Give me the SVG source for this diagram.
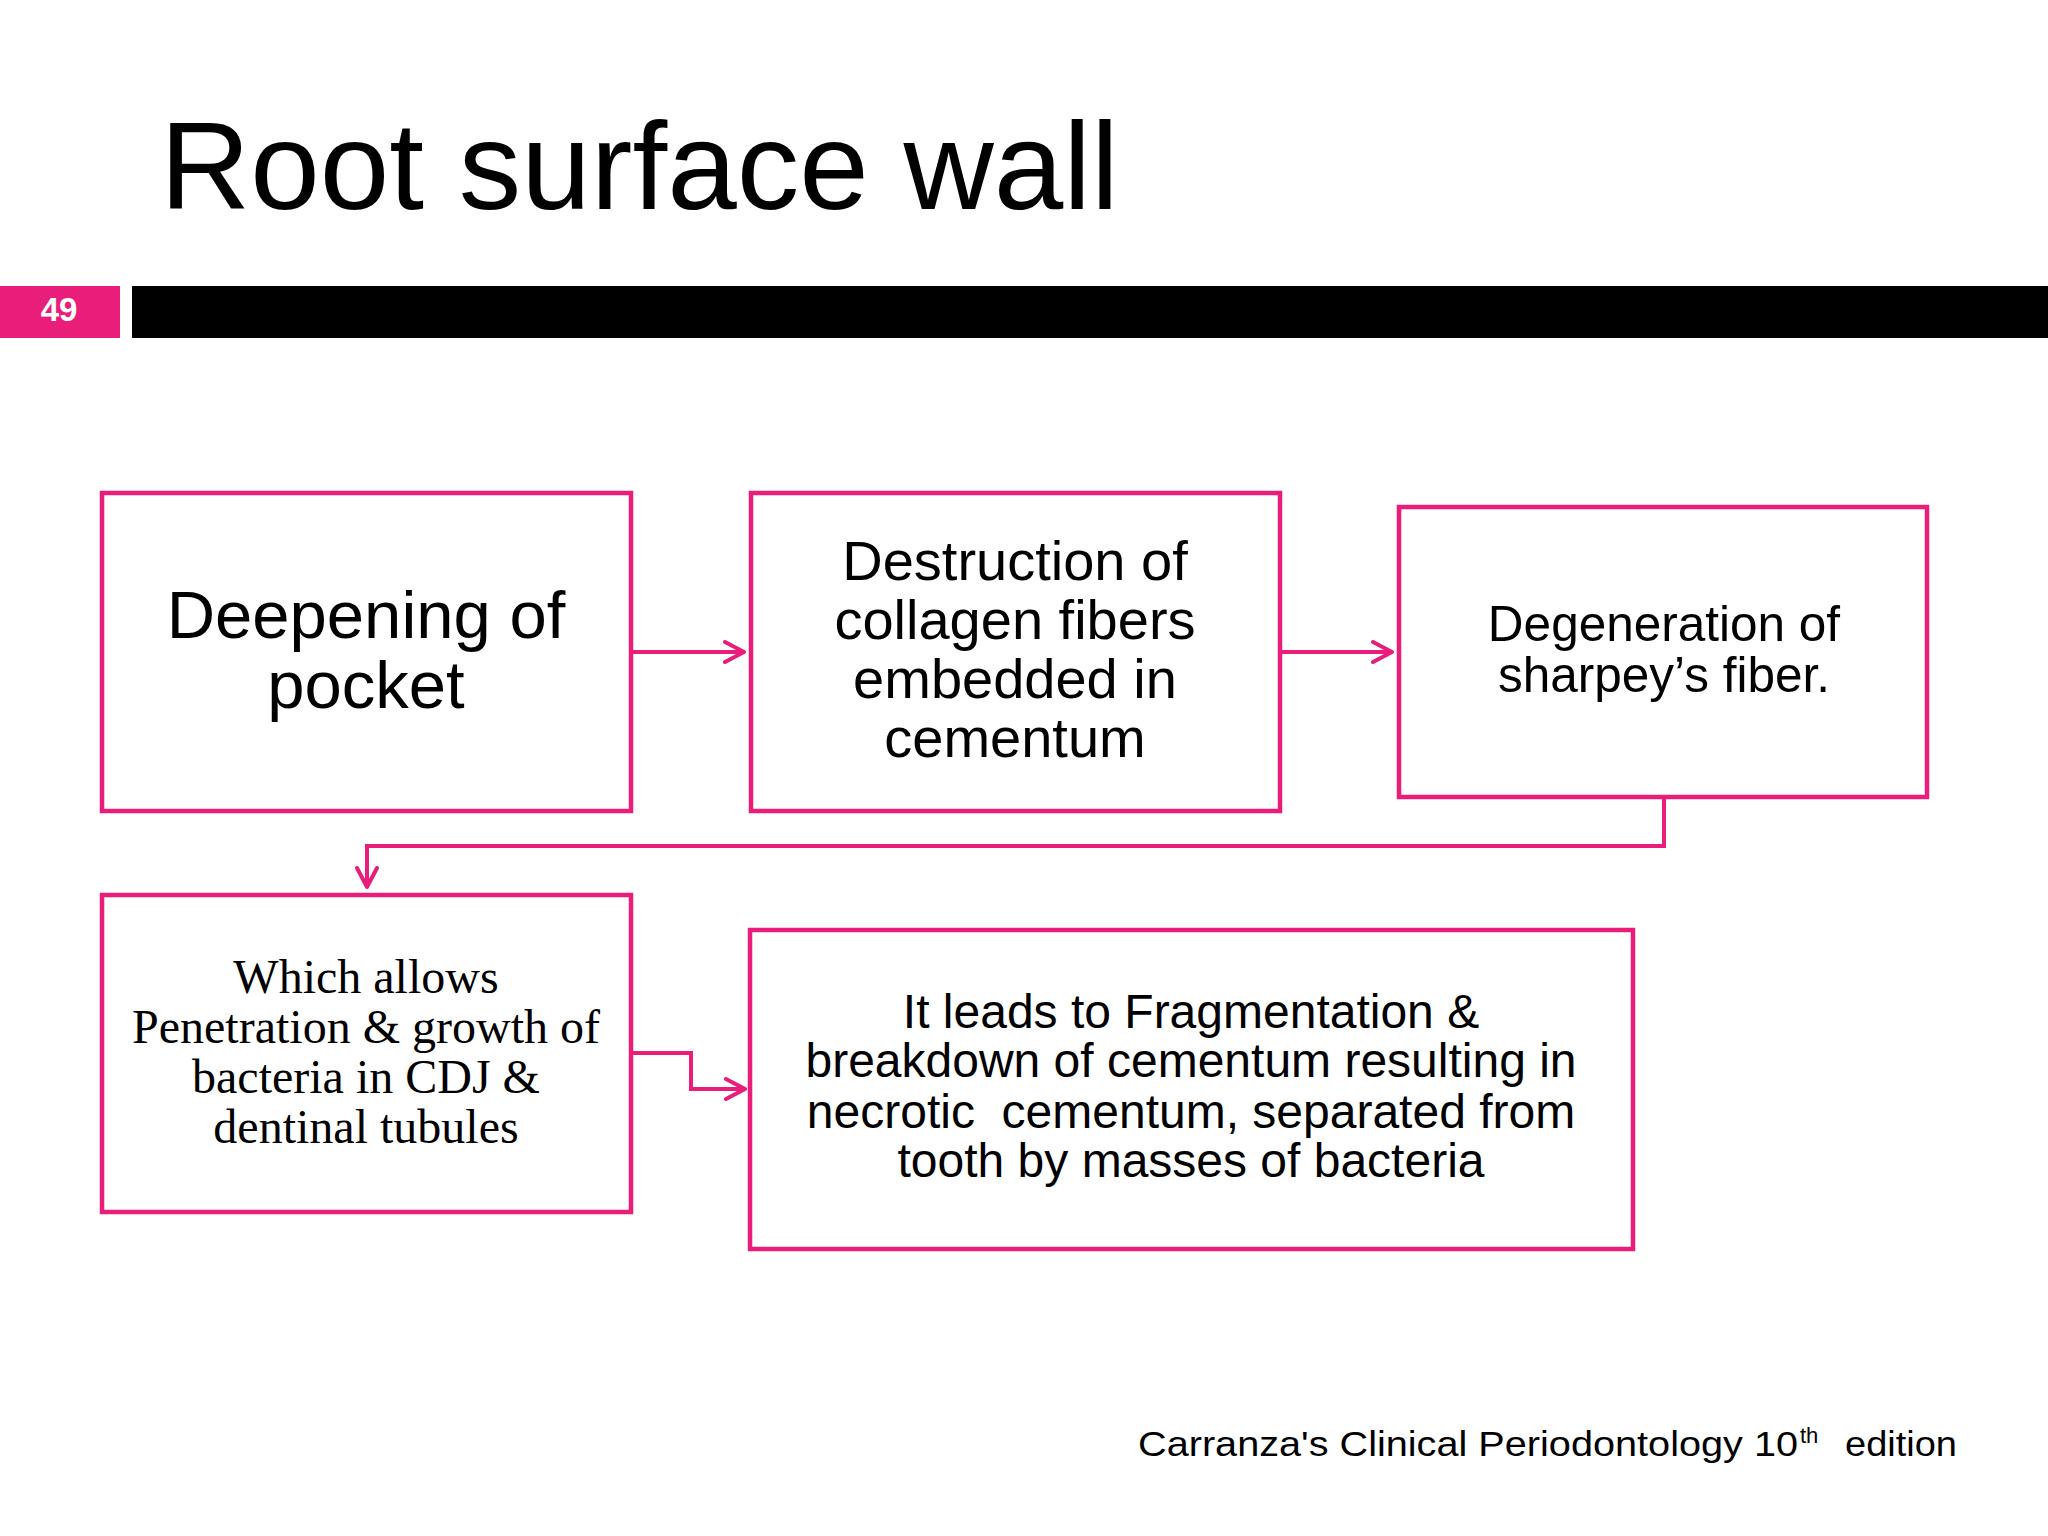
<svg xmlns="http://www.w3.org/2000/svg" width="2048" height="1536" viewBox="0 0 2048 1536">
<defs>
<style>
.box{fill:#FFFFFF;stroke:#E91E7B;stroke-width:4.5}
.conn{fill:none;stroke:#E91E7B;stroke-width:4}
.sans{font-family:"Liberation Sans",Arial,sans-serif;fill:#000;text-anchor:middle}
.serif{font-family:"Liberation Serif","Times New Roman",serif;fill:#000;text-anchor:middle}
</style>
<marker id="arr" viewBox="0 0 24 24" refX="21" refY="12" markerWidth="24" markerHeight="24" markerUnits="userSpaceOnUse" orient="auto">
<path d="M2,2 L21,12 L2,22" fill="none" stroke="#E91E7B" stroke-width="4" stroke-linecap="round" stroke-linejoin="round"/>
</marker>
</defs>
<rect width="2048" height="1536" fill="#FFFFFF"/>
<g id="header">
<text x="160" y="209" font-family="Liberation Sans, Arial, sans-serif" font-size="125" fill="#000">Root surface wall</text>
<rect x="0" y="286" width="120" height="52" fill="#E91E7B"/>
<text x="59" y="321" font-family="Liberation Sans, Arial, sans-serif" font-size="33" font-weight="bold" fill="#FFFFFF" text-anchor="middle">49</text>
<rect x="132" y="286" width="1916" height="52" fill="#000000"/>
</g>
<g id="connectors">
<path class="conn" d="M631,652 L744,652" marker-end="url(#arr)"/>
<path class="conn" d="M1280,652 L1392,652" marker-end="url(#arr)"/>
<path class="conn" d="M1664,797 L1664,846 L367,846 L367,887" marker-end="url(#arr)"/>
<path class="conn" d="M631,1053 L691,1053 L691,1089 L745,1089" marker-end="url(#arr)"/>
</g>
<g id="node-deepening">
<rect class="box" x="102" y="493" width="529" height="318"/>
<text class="sans" font-size="67"><tspan x="366" y="638">Deepening of</tspan><tspan x="366" y="708">pocket</tspan></text>
</g>
<g id="node-destruction">
<rect class="box" x="751" y="493" width="529" height="318"/>
<text class="sans" font-size="56"><tspan x="1015" y="580">Destruction of</tspan><tspan x="1015" y="639">collagen fibers</tspan><tspan x="1015" y="698">embedded in</tspan><tspan x="1015" y="757">cementum</tspan></text>
</g>
<g id="node-degeneration">
<rect class="box" x="1399" y="507" width="528" height="290"/>
<text class="sans" font-size="49.5"><tspan x="1664" y="641">Degeneration of</tspan><tspan x="1664" y="692">sharpey’s fiber.</tspan></text>
</g>
<g id="node-penetration">
<rect class="box" x="102" y="895" width="529" height="317"/>
<text class="serif" font-size="48"><tspan x="366" y="993">Which allows</tspan><tspan x="366" y="1043">Penetration &amp; growth of</tspan><tspan x="366" y="1093">bacteria in CDJ &amp;</tspan><tspan x="366" y="1143">dentinal tubules</tspan></text>
</g>
<g id="node-fragmentation">
<rect class="box" x="750" y="930" width="883" height="319"/>
<text class="sans" font-size="48" xml:space="preserve"><tspan x="1191" y="1028">It leads to Fragmentation &amp;</tspan><tspan x="1191" y="1077">breakdown of cementum resulting in</tspan><tspan x="1191" y="1128">necrotic  cementum, separated from</tspan><tspan x="1191" y="1177">tooth by masses of bacteria</tspan></text>
</g>
<g id="footer">
<text font-family="Liberation Sans, Arial, sans-serif" font-size="35" fill="#000"><tspan x="1138" y="1456" textLength="660" lengthAdjust="spacingAndGlyphs">Carranza's Clinical Periodontology 10</tspan><tspan x="1800" y="1443" font-size="22">th</tspan><tspan x="1845" y="1456" textLength="112" lengthAdjust="spacingAndGlyphs">edition</tspan></text>
</g>
</svg>
